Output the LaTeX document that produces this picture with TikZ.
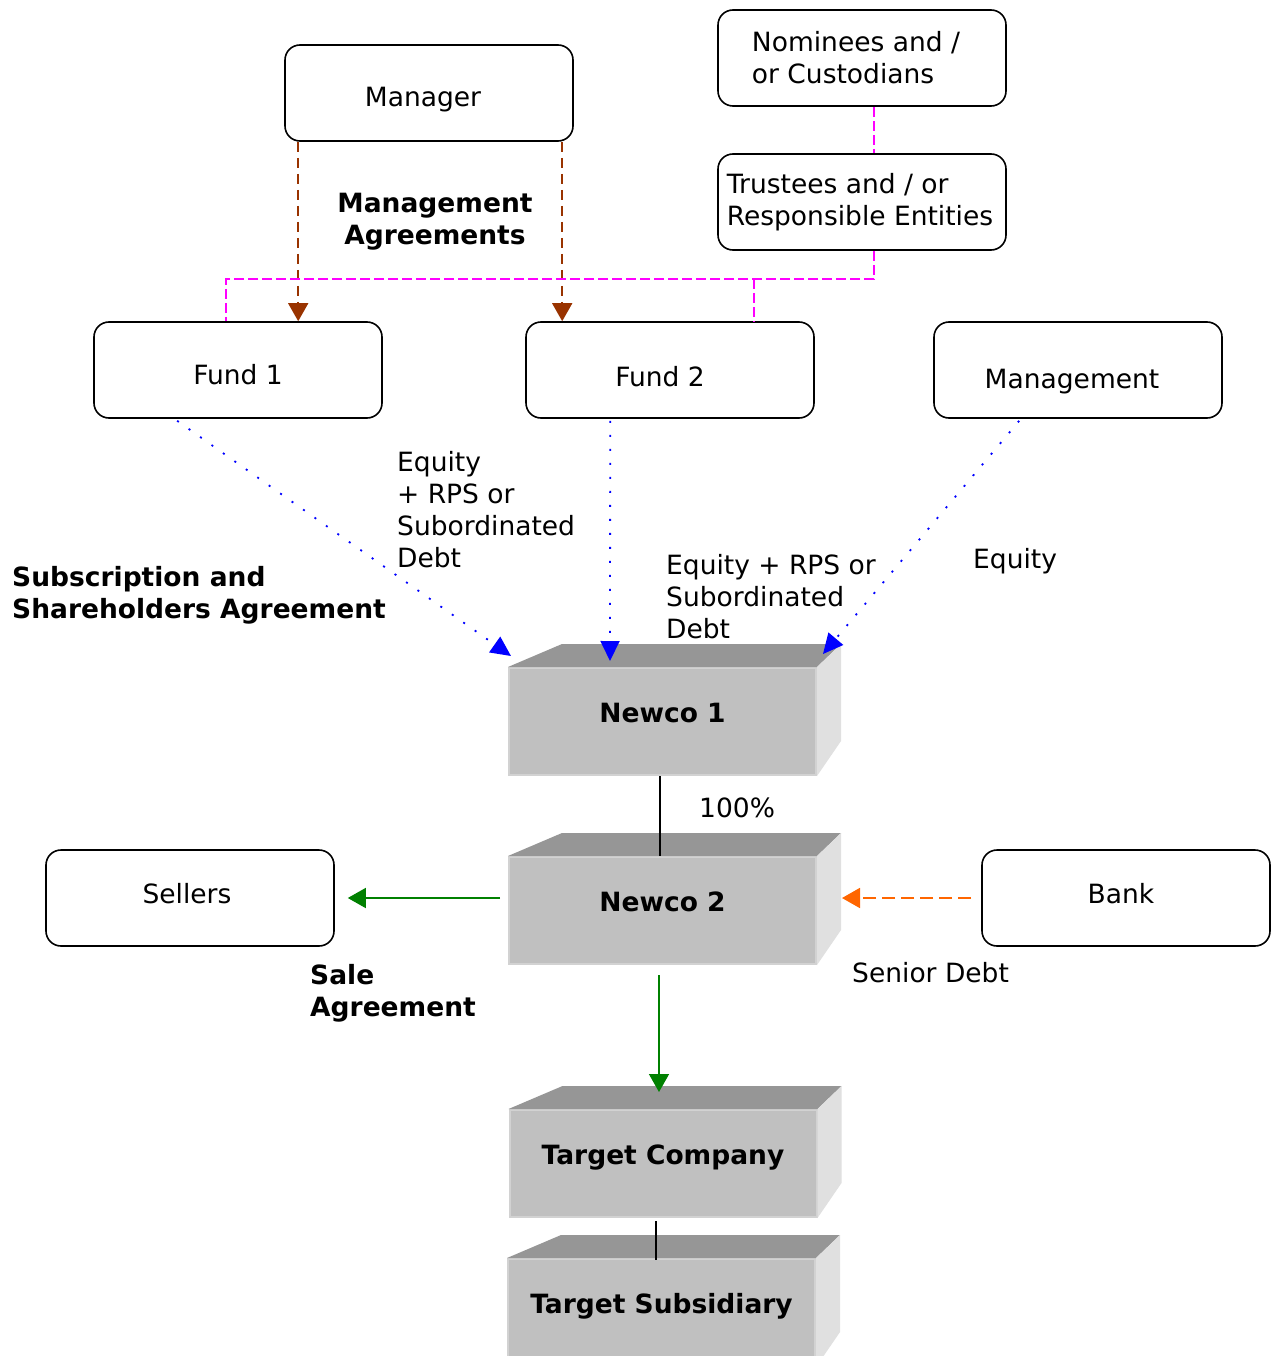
\documentclass[tikz,border=0pt]{standalone}
\usepackage{fontspec}
\setmainfont{DejaVu Sans}
\usetikzlibrary{arrows.meta,calc}
\newcommand\fs{\fontsize{26.5}{32}\selectfont}
\definecolor{mbrown}{HTML}{993300}
\definecolor{mmag}{HTML}{FF00FF}
\definecolor{mblue}{HTML}{0000FF}
\definecolor{mgreen}{HTML}{008000}
\definecolor{morange}{HTML}{FF6600}
\definecolor{ctop}{HTML}{969696}
\definecolor{cfront}{HTML}{C0C0C0}
\definecolor{cfrontb}{HTML}{D2D2D2}
\definecolor{cside}{HTML}{E0E0E0}
\newcommand\cubebox[4]{%
  \node[front] (#1) at (#2,#3) {#4};
  \fill[ctop] (#1.north west) -- ++(54,-23) -- ($(#1.north east)+(24,-23)$) -- (#1.north east) -- cycle;
  \fill[cside] (#1.north east) -- ++(24,-23) -- ++(0,97) -- (#1.south east) -- cycle;
}
\begin{document}
\begin{tikzpicture}[x=1pt,y=-1pt,
  box/.style={draw=black, line width=1.6pt, rounded corners=15pt, minimum width=288pt, minimum height=96pt, inner sep=0pt, font=\fs, text depth=5pt},
  mbox/.style={draw=black, line width=1.6pt, rounded corners=15pt, minimum width=288pt, minimum height=96pt, inner sep=0pt, font=\fs, align=left},
  front/.style={fill=cfront, draw=cfrontb, line width=2pt, minimum width=307pt, minimum height=107pt, inner sep=0pt, font=\fs\bfseries, text height=18pt, text depth=16pt},
  lbl/.style={inner sep=0pt, font=\fs, align=left, anchor=west},
  blbl/.style={inner sep=0pt, font=\fs\bfseries, align=left, anchor=west},
  mgmt/.style={draw=mbrown, line width=1.5pt, dash pattern=on 10pt off 6pt, -{Triangle[length=18pt,width=20pt]}},
  trust/.style={draw=mmag, line width=1.5pt, dash pattern=on 10pt off 4pt},
  eq/.style={draw=mblue, line width=1.8pt, dash pattern=on 2pt off 12pt, -{Triangle[length=20pt,width=19pt]}},
  sale/.style={draw=mgreen, line width=1.5pt, -{Triangle[length=18pt,width=20pt]}},
  debt/.style={draw=morange, line width=1.8pt, dash pattern=on 13pt off 6pt, -{Triangle[length=18pt,width=20pt]}},
  own/.style={draw=black, line width=1.5pt}
]
\useasboundingbox (0,0) rectangle (1271,1356);
\fill[white] (0,0) rectangle (1271,1356);

% rounded boxes
\node[box, text height=32pt] (manager) at (429,93) {\kern-12pt Manager};
\node[mbox] (nominees) at (862,58) {\kern-12pt Nominees and /\\\kern-12pt or Custodians};
\node[mbox] (trustees) at (862,202) {\kern-4pt Trustees and / or\\\kern-4pt Responsible Entities};
\node[box, text height=34pt] (fund1) at (238,370) {Fund 1};
\node[box, text height=38pt] (fund2) at (670,370) {\kern-20pt Fund 2};
\node[box, text height=42pt] (management) at (1078,370) {\kern-12pt Management};
\node[box, text height=18pt, text depth=7pt] (sellers) at (190,898) {\kern-6pt Sellers};
\node[box, text height=18pt, text depth=7pt] (bank) at (1126,898) {\kern-10pt Bank};

% 3D boxes
\cubebox{newcoA}{662.5}{721.5}{Newco 1}
\cubebox{newcoB}{662.5}{910.5}{Newco 2}
\cubebox{target}{663}{1163.5}{Target Company}
\cubebox{subsid}{661.5}{1312.5}{Target Subsidiary}

% management agreements
\draw[mgmt] ($(manager.south west)+(14,0)$) -- ($(fund1.north west)+(205,0)$);
\draw[mgmt] ($(manager.south west)+(278,0)$) -- ($(fund2.north west)+(37,0)$);

% trustees lines
\draw[trust] ($(nominees.south west)+(157,0)$) -- ($(trustees.north west)+(157,0)$);
\coordinate (tj) at ($(trustees.south west)+(157,28)$);
\draw[trust] ($(trustees.south west)+(157,0)$) -- (tj) -- ($(tj -| fund1.north west)+(133,0)$) -- ($(fund1.north west)+(133,0)$);
\draw[trust] ($(tj -| fund2.north west)+(229,0)$) -- ($(fund2.north west)+(229,0)$);

% equity arrows
\draw[eq] ($(fund1.south west)+(84,2)$) -- ($(newcoA.north west)+(3,-11)$);
\draw[eq] ($(fund2.south west)+(85,2)$) -- ($(newcoA.north west)+(102,-6)$);
\draw[eq] ($(management.south west)+(86,2)$) -- ($(newcoA.north east)+(6,-13)$);

% ownership and other flows
\draw[own] ($(newcoA.south)+(-2.5,0)$) -- ($(newcoB.north)+(-2.5,0)$);
\draw[sale] ($(newcoB.west |- sellers.east)+(-8,0)$) -- ($(sellers.east)+(13,0)$);
\draw[debt] ($(bank.west)+(-10,0)$) -- ($(newcoB.north east |- bank.west)+(25,0)$);
\draw[sale] ($(newcoB.south)+(-3.5,10)$) -- ($(target.north)+(-4,-17)$);
\draw[own] ($(target.south)+(-7,3)$) -- ($(subsid.north)+(-5.5,2)$);

% labels
\node[font=\fs\bfseries, align=center, inner sep=0pt] (lmgmt) at (435,222) {Management\\Agreements};
\node[lbl] (leq1) at (397,510) {Equity\\+ RPS or\\Subordinated\\Debt};
\node[blbl] (lsub) at (12,595) {Subscription and\\Shareholders Agreement};
\node[lbl] (leq2) at (666,597) {Equity + RPS or\\Subordinated\\Debt};
\node[lbl] (leq3) at (973,561) {Equity};
\node[lbl] (lpct) at (699,808) {100\%};
\node[blbl] (lsale) at (310,993) {Sale\\Agreement};
\node[lbl] (lsenior) at (852,973) {Senior Debt};
\end{tikzpicture}
\end{document}
